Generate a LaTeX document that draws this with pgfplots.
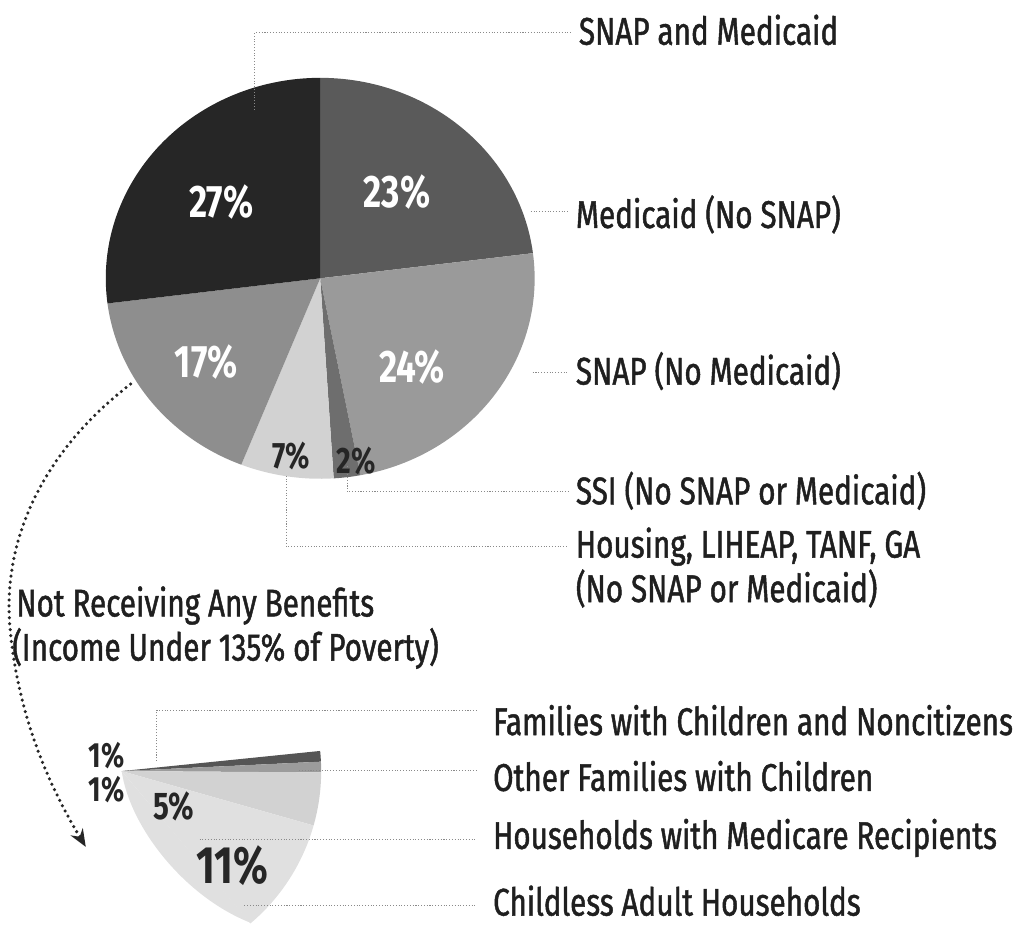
\documentclass[border=0pt]{standalone}
\usepackage{pgfplots}
\pgfplotsset{compat=1.18}
\usepackage{fontspec}
\setmainfont{Fira Sans}[FakeStretch=0.77, UprightFeatures={FakeBold=1.2}]
\usetikzlibrary{arrows.meta}

% main pie, clockwise from 12 o'clock
\definecolor{pMed}{HTML}{5A5A5A}
\definecolor{pSnap}{HTML}{9A9A9A}
\definecolor{pSsi}{HTML}{6E6E6E}
\definecolor{pHous}{HTML}{D2D2D2}
\definecolor{pNone}{HTML}{8E8E8E}
\definecolor{pBoth}{HTML}{262626}
% breakdown of the "no benefits" share
\definecolor{bFam}{HTML}{555555}
\definecolor{bOth}{HTML}{9C9C9C}
\definecolor{bMcr}{HTML}{D2D2D2}
\definecolor{bCls}{HTML}{E0E0E0}
\definecolor{leader}{HTML}{8A8A8A}

\newcommand\lab{\fontsize{22}{26}\selectfont}

% #1,#2 centre (axis units), #3,#4 radii, #5 start angle, #6 degrees per percent, #7 list pct/colour
\newcommand\drawpie[7]{%
  \xdef\pieangle{#5}%
  \foreach \p/\c in {#7} {%
    \pgfmathsetmacro\pieend{\pieangle-#6*\p}%
    \edef\temp{\noexpand\fill[\c] (axis cs:#1,#2) -- ++(\pieangle:#3 and #4)
      arc[start angle=\pieangle, end angle=\pieend, x radius=#3, y radius=#4] -- cycle;}%
    \temp
    \xdef\pieangle{\pieend}%
  }}

\tikzset{lead/.style={leader, densely dotted, line width=0.6pt}}

\begin{document}
\begin{tikzpicture}
\begin{axis}[
    x=0.02cm, y=0.02cm,
    xmin=0, xmax=1013, ymin=0, ymax=929,
    hide axis, clip=false, scale only axis,
]
\path (axis cs:0,0) rectangle (axis cs:1013,929);

% pie: Medicaid, SNAP, SSI, Housing etc., none, SNAP+Medicaid
\drawpie{321}{650}{4.3cm}{4.02cm}{90}{3.6}{23/pMed, 24/pSnap, 2/pSsi, 7/pHous, 17/pNone, 27/pBoth}

% breakdown fan: 1, 1, 5, 11 (left side bulges as in the original)
\fill[bCls] (axis cs:122,156) .. controls (axis cs:130,100) and (axis cs:185,30) .. (axis cs:251,4) -- cycle;
\drawpie{122}{156}{4.0cm}{4.0cm}{5.8}{3.09}{1/bFam, 1/bOth, 5/bMcr, 11/bCls}

% leader lines
\draw[lead] (axis cs:255,819) -- (axis cs:255,896) -- (axis cs:572,896);
\draw[lead] (axis cs:532,717) -- (axis cs:570,717);
\draw[lead] (axis cs:534,556) -- (axis cs:570,556);
\draw[lead] (axis cs:348,462) -- (axis cs:348,436) -- (axis cs:570,436);
\draw[lead] (axis cs:287,452) -- (axis cs:287,381) -- (axis cs:570,381);
\draw[lead] (axis cs:157,166) -- (axis cs:157,217) -- (axis cs:478,217);
\draw[lead] (axis cs:300,157) -- (axis cs:478,157);
\draw[lead] (axis cs:200,87) -- (axis cs:478,87);
\draw[lead] (axis cs:245,21) -- (axis cs:478,21);

% dotted arrow from the 17% slice to the breakdown
\draw[black!85, line width=2pt, line cap=round, dash pattern=on 0pt off 3.4pt,
      -{Stealth[length=10pt,width=8pt]}]
  (axis cs:131,544) .. controls (axis cs:45,478) and (axis cs:2,390) ..
  (axis cs:10,300) .. controls (axis cs:18,210) and (axis cs:50,140) .. (axis cs:86,80);

% slice labels
\node[white, font=\fontsize{26}{28}\selectfont\bfseries] at (axis cs:222,726) {27\%};
\node[white, font=\fontsize{26}{28}\selectfont\bfseries] at (axis cs:398,737) {23\%};
\node[white, font=\fontsize{26}{28}\selectfont\bfseries] at (axis cs:207,566) {17\%};
\node[white, font=\fontsize{26}{28}\selectfont\bfseries] at (axis cs:413,561) {24\%};
\node[black!85, font=\fontsize{21}{24}\selectfont\bfseries] at (axis cs:292,472) {7\%};
\node[black!85, font=\fontsize{21}{24}\selectfont\bfseries] at (axis cs:357,467) {2\%};

\node[black!85, font=\fontsize{20}{22}\selectfont\bfseries] at (axis cs:107,172) {1\%};
\node[black!85, font=\fontsize{20}{22}\selectfont\bfseries] at (axis cs:107,137) {1\%};
\node[black!85, font=\fontsize{22}{24}\selectfont\bfseries] at (axis cs:174,121) {5\%};
\node[black!85, font=\fontsize{30}{32}\selectfont\bfseries] at (axis cs:233,61) {11\%};

% category labels
\begin{scope}[every node/.style={anchor=west, inner sep=0pt, text=black!88, font=\lab}]
\node at (axis cs:580,899) {SNAP and Medicaid};
\node at (axis cs:577,714) {Medicaid (No SNAP)};
\node at (axis cs:577,557) {SNAP (No Medicaid)};
\node at (axis cs:577,437) {SSI (No SNAP or Medicaid)};
\node at (axis cs:577,381) {Housing, LIHEAP, TANF, GA};
\node at (axis cs:577,339) {(No SNAP or Medicaid)};
\node at (axis cs:16,322) {Not Receiving Any Benefits};
\node at (axis cs:12,279) {(Income Under 135\% of Poverty)};
\node at (axis cs:494,207) {Families with Children and Noncitizens};
\node at (axis cs:494,151) {Other Families with Children};
\node at (axis cs:494,89) {Households with Medicare Recipients};
\node at (axis cs:494,26) {Childless Adult Households};
\end{scope}
\end{axis}
\end{tikzpicture}
\end{document}
